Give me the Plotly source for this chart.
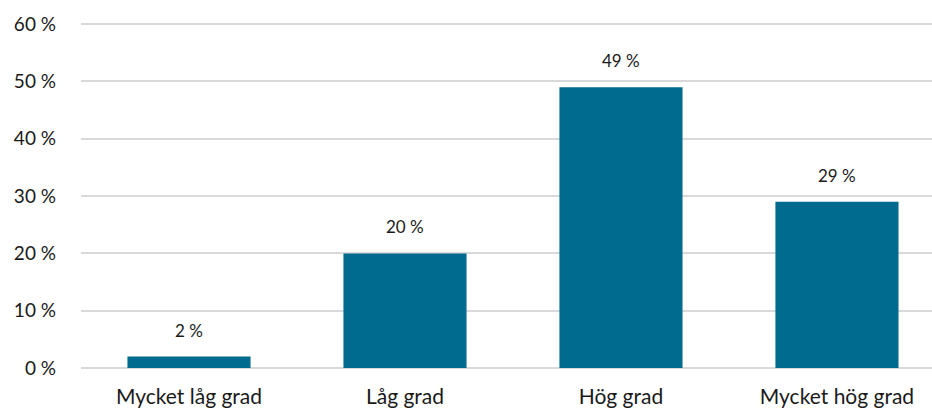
import plotly.graph_objects as go

categories = ["Mycket låg grad", "Låg grad", "Hög grad", "Mycket hög grad"]
shares = [2, 20, 49, 29]
y_ticks = [0, 10, 20, 30, 40, 50, 60]
y_tick_labels = ["0 %", "10 %", "20 %", "30 %", "40 %", "50 %", "60 %"]

bar_color = "#006B8F"
grid_color = "#D9D9D9"
text_color = "#1A1A1A"
font_family = "Lato, 'Liberation Sans', sans-serif"

fig = go.Figure()
fig.add_trace(go.Bar(
    x=categories,
    y=shares,
    marker=dict(color=bar_color, line=dict(width=0)),
    width=0.57,
    hoverinfo="skip",
))

for cat, val in zip(categories, shares):
    fig.add_annotation(
        x=cat, y=val, text=f"{val} %",
        showarrow=False, yanchor="bottom", yshift=14,
        font=dict(family=font_family, size=17, color=text_color),
    )

fig.update_layout(
    width=932, height=410,
    margin=dict(l=81, r=0, t=23, b=42),
    plot_bgcolor="white", paper_bgcolor="white",
    showlegend=False,
    bargap=0.43,
    font=dict(family=font_family, size=19, color=text_color),
)
fig.update_xaxes(
    type="category",
    range=[-0.5, 3.44],
    showgrid=False, showline=False, zeroline=False,
    ticks="", ticklabelstandoff=14,
    tickfont=dict(size=21, color=text_color),
)
fig.update_yaxes(
    range=[0, 60.2],
    tickvals=y_ticks, ticktext=y_tick_labels,
    showgrid=True, gridcolor=grid_color, gridwidth=2,
    zeroline=True, zerolinecolor=grid_color, zerolinewidth=2,
    showline=False, ticks="", ticklabelstandoff=24,
    tickfont=dict(size=19, color=text_color),
)

fig.write_html("out.html")
